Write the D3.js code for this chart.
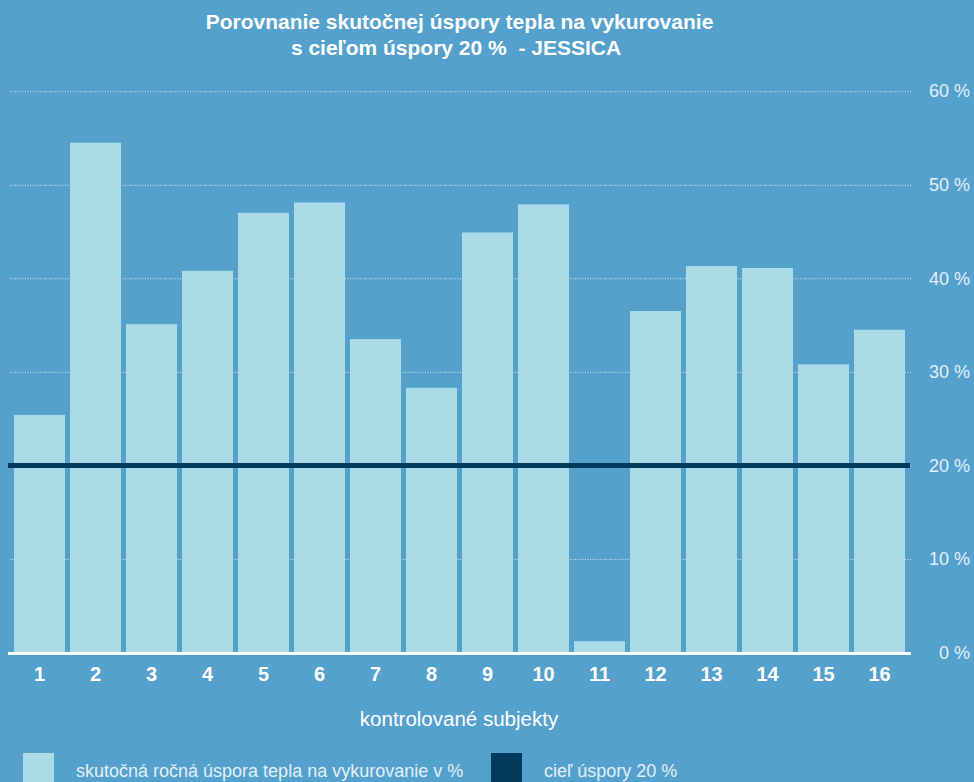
<!DOCTYPE html>
<html>
<head>
<meta charset="utf-8">
<script src="https://cdn.jsdelivr.net/npm/d3@7"></script>
<style>
  body { margin: 0; background: #54a1cd; }
  svg { display: block; font-family: "Liberation Sans", Arial, Helvetica, sans-serif; }
</style>
</head>
<body>
<div id="chart"></div>
<script>
var width = 974,
  height = 782;

// data
var subjects = ["1", "2", "3", "4", "5", "6", "7", "8", "9", "10", "11", "12", "13", "14", "15", "16"];
var savings = [25.4, 54.5, 35.1, 40.8, 47.0, 48.1, 33.5, 28.3, 44.9, 47.9, 1.2, 36.5, 41.3, 41.1, 30.8, 34.5];
var target = 20;
var yTicks = [0, 10, 20, 30, 40, 50, 60];
var titleLines = ["Porovnanie skutočnej úspory tepla na vykurovanie", "s cieľom úspory 20 %\u00a0 - JESSICA"];
var legendLabels = ["skutočná ročná úspora tepla na vykurovanie v %", "cieľ úspory 20 %"];

var bg = "#54a1cd",
  barColor = "#aadbe6",
  lineColor = "#003a5c";

var svg = d3.select("#chart").append("svg")
  .attr("width", width)
  .attr("height", height);

svg.append("rect").attr("width", width).attr("height", height).attr("fill", bg);

var x = d3.scaleBand()
  .domain(subjects)
  .range([11.5, 907.5])
  .paddingInner(5 / 56)
  .paddingOuter(2.5 / 56);

var y = d3.scaleLinear()
  .domain([0, 60])
  .range([652.5, 91.2]);

// title
svg.append("text")
  .attr("text-anchor", "middle")
  .attr("fill", "#fff")
  .style("font-weight", "bold")
  .style("font-size", "21px")
  .selectAll("tspan").data(titleLines).enter().append("tspan")
  .attr("x", function (d, i) { return i ? 456 : 459.5; })
  .attr("y", function (d, i) { return 29 + i * 26; })
  .text(function (d) { return d; });

// gridlines
var grid = svg.append("g")
  .attr("transform", "translate(911,0)")
  .call(d3.axisLeft(y).tickValues(yTicks.slice(1)).tickSize(902).tickFormat(""));
grid.select(".domain").remove();
grid.selectAll("line")
  .attr("stroke", "#e8f3fa")
  .attr("stroke-width", 1)
  .attr("stroke-dasharray", "1,1.5")
  .attr("opacity", 0.85);

// right tick labels
var yAxis = svg.append("g")
  .attr("transform", "translate(970,0)")
  .call(d3.axisLeft(y).tickValues(yTicks).tickSize(0).tickPadding(0)
    .tickFormat(function (d) { return d + " %"; }));
yAxis.select(".domain").remove();
yAxis.selectAll("text")
  .attr("fill", "#e3f0f8")
  .style("font-size", "18px")
  .style("font-family", "\"Liberation Sans\", Arial, sans-serif");

// bars
svg.append("g").selectAll("rect")
  .data(savings)
  .enter().append("rect")
  .attr("x", function (d, i) { return x(subjects[i]); })
  .attr("y", function (d) { return y(d); })
  .attr("width", x.bandwidth())
  .attr("height", function (d) { return y(0) - y(d); })
  .attr("fill", barColor);

// baseline
svg.append("line")
  .attr("x1", 8).attr("x2", 911)
  .attr("y1", y(0) + 1).attr("y2", y(0) + 1)
  .attr("stroke", "#fff")
  .attr("stroke-width", 3);

// target line
svg.append("line")
  .attr("x1", 8).attr("x2", 910)
  .attr("y1", y(target)).attr("y2", y(target))
  .attr("stroke", lineColor)
  .attr("stroke-width", 5);

// x labels
var xAxis = svg.append("g")
  .attr("transform", "translate(0,667)")
  .call(d3.axisBottom(x).tickSize(0).tickPadding(0));
xAxis.select(".domain").remove();
xAxis.selectAll("text")
  .attr("fill", "#fff")
  .style("font-size", "20px")
  .style("font-weight", "bold")
  .style("font-family", "\"Liberation Sans\", Arial, sans-serif");

svg.append("text")
  .attr("x", 459)
  .attr("y", 726)
  .attr("text-anchor", "middle")
  .attr("fill", "#fff")
  .style("font-size", "20.5px")
  .text("kontrolované subjekty");

// legend
var legend = svg.append("g");
legend.append("rect")
  .attr("x", 23).attr("y", 753).attr("width", 31).attr("height", 31)
  .attr("fill", barColor);
legend.append("text")
  .attr("x", 76).attr("y", 777)
  .attr("fill", "#e3f0f8")
  .style("font-size", "18px")
  .text(legendLabels[0]);
legend.append("rect")
  .attr("x", 491).attr("y", 753).attr("width", 31).attr("height", 31)
  .attr("fill", lineColor);
legend.append("text")
  .attr("x", 544).attr("y", 777)
  .attr("fill", "#e3f0f8")
  .style("font-size", "18px")
  .text(legendLabels[1]);
</script>
</body>
</html>
